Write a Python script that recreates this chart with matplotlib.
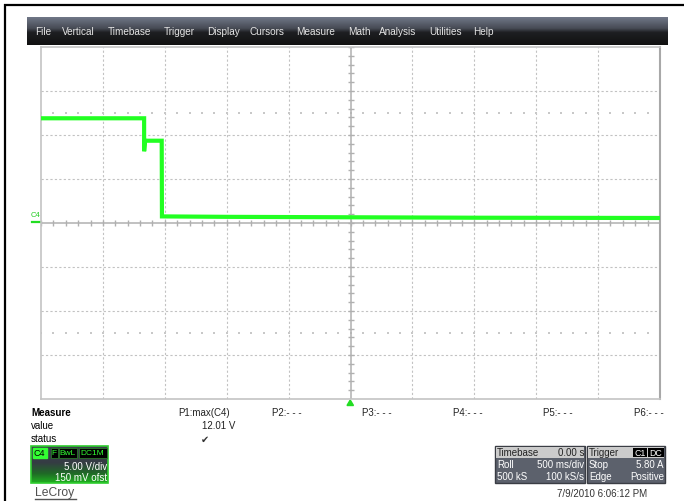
import matplotlib
matplotlib.use('Agg')
import matplotlib.pyplot as plt
import numpy as np
from matplotlib.patches import Rectangle, Polygon
from matplotlib.colors import LinearSegmentedColormap

plt.rcParams['font.family'] = ['Liberation Sans', 'DejaVu Sans']

# ---------------- data ----------------
menu_items = ["File", "Vertical", "Timebase", "Trigger", "Display", "Cursors",
              "Measure", "Math", "Analysis", "Utilities", "Help"]

# C4 trace (time in s, voltage in V)
time_s = [-2.5, -1.667, -1.667, -1.660, -1.525, -1.523, -1.0, 0.0, 1.0, 2.5]
volts_c4 = [11.75, 11.75, 8.0, 9.2, 9.2, 0.60, 0.55, 0.50, 0.45, 0.42]

volts_per_div = 5.0
offset_v = 0.15
sec_per_div = 0.5
n_xdiv, n_ydiv = 10, 8

param_labels = ["P1:max(C4)", "P2:- - -", "P3:- - -", "P4:- - -", "P5:- - -", "P6:- - -"]
p1_value = "12.01 V"
row_labels = ["value", "status"]

ch_tags = ["F", "BwL", "DC1M"]
ch_scale = "5.00 V/div"
ch_offset = "150 mV ofst"
tb_rows = [("Timebase", "0.00 s"), ("Roll", "500 ms/div"), ("500 kS", "100 kS/s")]
trig_rows = [("Trigger", ""), ("Stop", "5.80 A"), ("Edge", "Positive")]
trig_tags = ["C1", "DC"]
timestamp = "7/9/2010 6:06:12 PM"

# ---------------- figure ----------------
W, H = 684, 502
fig = plt.figure(figsize=(W / 100, H / 100), dpi=100)
fig.patch.set_facecolor('white')
ax0 = fig.add_axes([0, 0, 1, 1])
ax0.set_xlim(0, W)
ax0.set_ylim(H, 0)
ax0.axis('off')

# outer black border (left & top)
ax0.plot([4.5, 4.5], [5, H], color='black', lw=1.6, solid_capstyle='butt')
ax0.plot([4, W], [5.5, 5.5], color='black', lw=1.6, solid_capstyle='butt')

# menu bar
menu_cmap = LinearSegmentedColormap.from_list(
    'menu', [(0, '#707787'), (0.4, '#474b55'), (0.55, '#1e1f22'), (1, '#111111')])
grad = np.linspace(0, 1, 64)[:, None]
ax0.imshow(grad, extent=[27, 668, 46, 18], aspect='auto', cmap=menu_cmap, zorder=1)
menu_x = [35, 62, 108, 164, 207, 250, 296, 348, 379, 429, 473]
for name, mx in zip(menu_items, menu_x):
    ax0.text(mx, 32, name, color='#e4e4e4', fontsize=7.2, va='center', ha='left', zorder=2)

# ---------------- plot area ----------------
L, R, T, B = 41, 660, 48, 400
ax = fig.add_axes([L / W, (H - B) / H, (R - L) / W, (B - T) / H])
xmin, xmax = -n_xdiv / 2 * sec_per_div, n_xdiv / 2 * sec_per_div
y0 = -offset_v
ymin, ymax = y0 - n_ydiv / 2 * volts_per_div, y0 + n_ydiv / 2 * volts_per_div
ax.set_xlim(xmin, xmax)
ax.set_ylim(ymin, ymax)
ax.set_xticks([])
ax.set_yticks([])
for s in ax.spines.values():
    s.set_color('#c4c4c4')
    s.set_linewidth(1.2)
ax.spines['right'].set_color('#a8a8a8')
ax.spines['right'].set_linewidth(1.5)

grid_kw = dict(color='#c2c2c2', lw=0.8, linestyle=(0, (2, 2)), zorder=1)
for k in range(1, n_xdiv):
    xv = xmin + k * sec_per_div
    if abs(xv) > 1e-9:
        ax.axvline(xv, **grid_kw)
for k in range(1, n_ydiv):
    yv = ymin + k * volts_per_div
    if abs(yv - y0) > 1e-9:
        ax.axhline(yv, **grid_kw)

# center axes with ticks
ax.axhline(y0, color='#b0b0b0', lw=1.1, zorder=2)
ax.axvline(0, color='#b0b0b0', lw=1.1, zorder=2)
xt = np.arange(xmin, xmax + 1e-9, sec_per_div / 5)
ytk = 3 / 44 * volts_per_div
ax.vlines(xt, y0 - ytk, y0 + ytk, color='#b0b0b0', lw=1.0, zorder=2)
yt = np.arange(ymin, ymax + 1e-9, volts_per_div / 5)
xtk = 3 / 61.9 * sec_per_div
ax.hlines(yt, -xtk, xtk, color='#b0b0b0', lw=1.0, zorder=2)

# sub-division dot rows
for yrow in [y0 + 2.5 * volts_per_div, y0 - 2.5 * volts_per_div]:
    ax.scatter(xt, np.full_like(xt, yrow), s=1.0, marker='s', color='#c8c8c8', zorder=1,
               linewidths=0)

# trace
ax.plot(time_s, volts_c4, color='#22ff22', lw=3.0, zorder=5, solid_joinstyle='miter')

# C4 ground marker on left
ax0.plot([32, 41], [222.5, 222.5], color='#22dd22', lw=1.6)
ax0.text(31, 216, "C4", color='#22cc22', fontsize=5.5, va='center', ha='left')

# trigger triangle
ax0.add_patch(Polygon([(347, 406.5), (353.5, 406.5), (350.2, 401)], closed=True,
                      color='#22dd22', zorder=3))

# ---------------- measure panel ----------------
ax0.text(31, 413, "Measure", fontsize=7, fontweight='bold', va='center', ha='left')
ax0.text(31, 426, row_labels[0], fontsize=7, va='center', ha='left')
ax0.text(31, 439, row_labels[1], fontsize=7, va='center', ha='left')
p_x = [178, 272, 362, 453, 543, 634]
for lab, px in zip(param_labels, p_x):
    ax0.text(px, 413, lab, fontsize=7, va='center', ha='left', color='#222222')
ax0.text(235, 426, p1_value, fontsize=7, va='center', ha='right', color='#222222')
ax0.text(205, 439.5, "\u2714", fontsize=7, va='center', ha='center', color='#333333',
         family='DejaVu Sans')

# C4 channel box
ch_cmap = LinearSegmentedColormap.from_list(
    'ch', [(0, '#3b404c'), (0.45, '#353c44'), (0.75, '#1f6a26'), (1, '#20b020')])
ax0.imshow(grad, extent=[31, 108, 484, 447], aspect='auto', cmap=ch_cmap, zorder=1)
ax0.add_patch(Rectangle((31, 447), 77, 37, fill=False, edgecolor='#2ecc2e', lw=1.2, zorder=2))
ax0.add_patch(Rectangle((32.5, 449), 14, 9.5, color='#33ff33', zorder=3))
ax0.text(39.5, 453.8, "C4", fontsize=6.5, va='center', ha='center', color='black', zorder=4)
tag_boxes = [(50.5, 7), (59, 17.5), (78.5, 28)]
for tag, (bx, bw) in zip(ch_tags, tag_boxes):
    ax0.add_patch(Rectangle((bx, 449), bw, 9.5, facecolor='black', edgecolor='#2a7a2a',
                            lw=0.6, zorder=3))
    ax0.text(bx + bw / 2, 453.8, tag, fontsize=6, va='center', ha='center',
             color='#33ff33', zorder=4)
ax0.text(107, 467, ch_scale, fontsize=7, va='center', ha='right', color='white', zorder=4)
ax0.text(107, 478.5, ch_offset, fontsize=7, va='center', ha='right', color='white', zorder=4)

# LeCroy logo
ax0.text(35, 493, "LeCroy", fontsize=8.7, va='center', ha='left', color='#505050')
ax0.plot([35, 75.5], [499.5, 499.5], color='#555555', lw=1.0)

# Timebase / trigger boxes
def info_box(x, w, rows, tags=None, tag_x=None):
    ax0.add_patch(Rectangle((x, 447), w, 37, facecolor='#5c616c', edgecolor='#3a3d44',
                            lw=1.0, zorder=1))
    ax0.add_patch(Rectangle((x + 1, 448), w - 2, 11, facecolor='#cbcbcb', edgecolor='none',
                            zorder=2))
    ys = [453.5, 465.5, 477.5]
    for i, (lt, rt) in enumerate(rows):
        c = '#222222' if i == 0 else 'white'
        ax0.text(x + 2, ys[i], lt, fontsize=7, va='center', ha='left', color=c, zorder=3)
        if rt:
            ax0.text(x + w - 1, ys[i], rt, fontsize=7, va='center', ha='right', color=c,
                     zorder=3)
    if tags:
        for t, (tx, tw) in zip(tags, tag_x):
            ax0.add_patch(Rectangle((tx, 449), tw, 9, facecolor='black', edgecolor='none',
                                    zorder=3))
            ax0.text(tx + tw / 2, 453.6, t, fontsize=6.3, va='center', ha='center',
                     color='white', zorder=4)

info_box(495, 90, tb_rows)
info_box(587, 78, trig_rows, trig_tags, [(633, 14), (648, 15.5)])

ax0.text(647, 494, timestamp, fontsize=7, va='center', ha='right', color='#333333')

fig.savefig('out.png', dpi=100)
